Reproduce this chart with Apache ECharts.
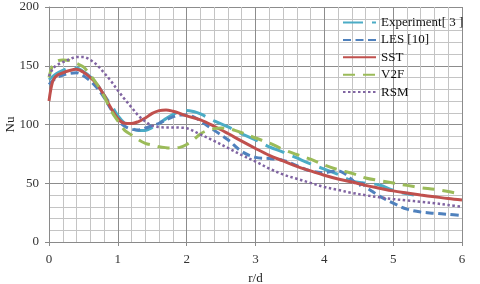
<!DOCTYPE html>
<html>
<head>
<meta charset="utf-8">
<script src="https://cdn.jsdelivr.net/npm/echarts@6/dist/echarts.min.js"></script>
<style>html,body{margin:0;padding:0;background:#fff;}#c{width:480px;height:284px;}</style>
</head>
<body>
<div id="c"></div>
<script>
// ---- data ----
const legendNames = ['Experiment[ 3 ]', 'LES [10]', 'SST', 'V2F', 'RSM'];

const rExp  = [0, 0.1, 0.2, 0.3, 0.4, 0.5, 0.6, 0.7, 0.8, 0.9, 1.0, 1.1, 1.2, 1.3, 1.4, 1.5, 1.6, 1.7, 1.8, 1.9, 2.0, 2.1, 2.2, 2.4, 2.6, 2.8, 3.0, 3.2, 3.4, 3.6, 3.8, 4.0, 4.2, 4.4, 4.6, 4.8, 5.0, 5.2, 5.3];
const nuExp = [138, 143, 146, 148, 148, 145, 140.5, 134, 125, 117, 107.5, 101, 97, 95, 95, 97.5, 101, 105, 108.5, 111, 112, 111, 109, 103, 98, 92, 87, 81, 76.5, 71.5, 66.5, 62, 57.5, 52, 50, 48.5, 44, 41, 40];

const rLes  = [0, 0.1, 0.2, 0.3, 0.4, 0.5, 0.6, 0.7, 0.8, 0.9, 1.0, 1.1, 1.2, 1.3, 1.4, 1.5, 1.6, 1.7, 1.8, 1.9, 2.0, 2.1, 2.2, 2.3, 2.4, 2.6, 2.8, 3.0, 3.2, 3.4, 3.6, 3.8, 4.0, 4.1, 4.2, 4.3, 4.4, 4.5, 4.55, 4.6, 4.7, 4.8, 5.0, 5.2, 5.4, 5.6, 5.8, 6.0];
const nuLes = [134, 139.5, 142, 143.5, 144, 141.5, 137, 131, 123, 113, 104, 98.5, 96, 95.3, 97, 99, 101, 104, 106.5, 108, 108, 106.5, 103, 99, 95, 87, 77, 72, 71, 69.5, 65, 60.5, 59, 60, 60.5, 58, 53, 48, 50, 47, 43, 39, 33, 28, 25.5, 24.5, 23.5, 22.5];

const rSst  = [0, 0.05, 0.1, 0.2, 0.3, 0.4, 0.5, 0.6, 0.7, 0.8, 0.9, 1.0, 1.1, 1.2, 1.3, 1.4, 1.5, 1.6, 1.7, 1.8, 1.9, 2.0, 2.2, 2.4, 2.6, 2.8, 3.0, 3.2, 3.4, 3.6, 3.8, 4.0, 4.2, 4.4, 4.6, 4.8, 5.0, 5.2, 5.4, 5.6, 5.8, 6.0];
const nuSst = [120, 136, 141, 144, 146, 147, 144.5, 140, 134, 125, 114, 105, 101, 100.8, 102.5, 105.5, 109.5, 111.8, 112.4, 111.3, 109.5, 107.3, 104, 98.5, 92.3, 85.8, 79.6, 73.8, 69, 64.3, 60.5, 56.8, 53.6, 51, 48.2, 45.8, 43.5, 41.7, 40, 38.5, 37, 35.8];

const rV2f  = [0, 0.05, 0.1, 0.2, 0.3, 0.4, 0.5, 0.6, 0.7, 0.8, 0.9, 1.0, 1.1, 1.2, 1.3, 1.4, 1.5, 1.6, 1.7, 1.8, 1.9, 2.0, 2.1, 2.2, 2.3, 2.4, 2.5, 2.6, 2.7, 2.8, 3.0, 3.2, 3.4, 3.6, 3.8, 4.0, 4.2, 4.4, 4.6, 4.8, 5.0, 5.2, 5.4, 5.6, 5.8, 6.0];
const nuV2f = [140, 150, 153.5, 155, 154.5, 152, 149, 142, 134, 124, 112, 103, 95, 91, 87, 84, 82.5, 81, 80.3, 80, 80.5, 83, 87, 92, 95, 96.5, 97, 96.5, 95, 93, 88.5, 84.3, 78.8, 74.5, 70.5, 65.5, 61.5, 58.5, 54.5, 52.3, 50.2, 48.2, 46.2, 44.8, 42.9, 40.5];

const rRsm  = [0, 0.05, 0.1, 0.2, 0.3, 0.4, 0.5, 0.6, 0.7, 0.8, 0.9, 1.0, 1.1, 1.2, 1.3, 1.4, 1.5, 1.6, 1.7, 1.8, 1.9, 2.0, 2.2, 2.4, 2.6, 2.8, 3.0, 3.2, 3.4, 3.6, 3.8, 4.0, 4.2, 4.4, 4.6, 4.8, 5.0, 5.2, 5.4, 5.6, 5.8, 6.0];
const nuRsm = [141, 147, 150, 153, 155.5, 157.5, 157.5, 155, 150.5, 144, 137, 129, 121.5, 114.5, 107.5, 102.5, 99, 97.8, 97.5, 97.5, 97.3, 96.8, 91.5, 86, 80, 74, 68.5, 62.5, 57.5, 53.8, 50.3, 46.8, 44.3, 41.8, 39.8, 38, 36.5, 35.3, 34.3, 33, 31.5, 30];

const xTicks = [0, 1, 2, 3, 4, 5, 6];
const yTicks = [0, 50, 100, 150, 200];

// ---- chart ----
const pairs = (xs, ys) => xs.map((x, i) => [x, ys[i]]);
const FONT = '"Liberation Serif", "Times New Roman", serif';

const chart = echarts.init(document.getElementById('c'), null, {renderer: 'canvas'});

function mk(name, xs, ys, color, width, dash, z) {
  return {
    name: name, type: 'line', data: pairs(xs, ys), smooth: 0.35,
    symbol: 'none', z: z, animation: false,
    lineStyle: {color: color, width: width, type: dash, cap: 'butt'},
    itemStyle: {color: color}
  };
}

chart.setOption({
  animation: false,
  backgroundColor: '#fff',
  grid: {left: 49, right: 18, top: 7, bottom: 42, containLabel: false, outerBoundsMode: 'none'},
  legend: {
    orient: 'vertical', left: 337, top: 11,
    itemWidth: 33, itemHeight: 14, itemGap: 4.4,
    itemStyle: {opacity: 0},
    textStyle: {fontFamily: FONT, fontSize: 13, color: '#111'},
    data: legendNames
  },
  xAxis: {
    type: 'value', min: xTicks[0], max: xTicks[xTicks.length - 1], interval: 1,
    name: 'r/d', nameLocation: 'middle', nameGap: 30,
    nameTextStyle: {fontFamily: FONT, fontSize: 13, color: '#222'},
    axisLine: {lineStyle: {color: '#8a8a8a', width: 1}},
    axisTick: {show: true, length: 4, lineStyle: {color: '#8a8a8a'}},
    axisLabel: {fontFamily: FONT, fontSize: 13, color: '#333', margin: 11},
    splitLine: {show: true, lineStyle: {color: '#8c8c8c', width: 1}},
    minorTick: {show: false, splitNumber: 5},
    minorSplitLine: {show: true, lineStyle: {color: '#c4c4c4', width: 1}}
  },
  yAxis: {
    type: 'value', min: yTicks[0], max: yTicks[yTicks.length - 1], interval: 50,
    name: 'Nu', nameLocation: 'middle', nameGap: 32, nameMoveOverlap: false,
    nameTextStyle: {fontFamily: FONT, fontSize: 13, color: '#222'},
    axisLine: {show: true, lineStyle: {color: '#8a8a8a', width: 1}},
    axisTick: {show: true, length: 4, lineStyle: {color: '#8a8a8a'}},
    axisLabel: {fontFamily: FONT, fontSize: 13, color: '#333', margin: 10},
    splitLine: {show: true, lineStyle: {color: '#8c8c8c', width: 1}},
    minorTick: {show: false, splitNumber: 5},
    minorSplitLine: {show: true, lineStyle: {color: '#c4c4c4', width: 1}}
  },
  series: [
    mk(legendNames[0], rExp, nuExp, '#4bacc6', 3, [20, 9], 2),
    mk(legendNames[1], rLes, nuLes, '#4f81bd', 3, [8, 4.5], 3),
    mk(legendNames[2], rSst, nuSst, '#c0504d', 3, 'solid', 4),
    mk(legendNames[3], rV2f, nuV2f, '#9bbb59', 3, [12, 8], 5),
    mk(legendNames[4], rRsm, nuRsm, '#8064a2', 2.5, [2.5, 2.5], 6)
  ]
});
</script>
</body>
</html>
